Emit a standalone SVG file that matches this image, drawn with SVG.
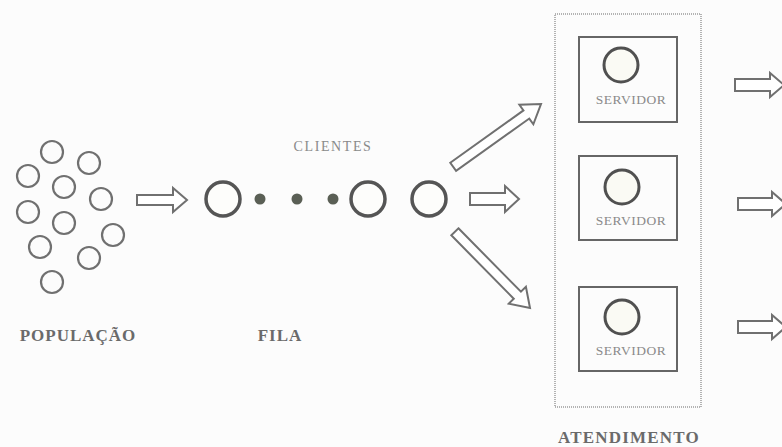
<svg xmlns="http://www.w3.org/2000/svg" width="782" height="447" viewBox="0 0 782 447">
<defs>
<style>
.pop{fill:none;stroke:#707070;stroke-width:2.2}
.q{fill:#fdfdfb;stroke:#555;stroke-width:3.5}
.dot{fill:#5a5f55}
.arr{fill:#fff;stroke:#707070;stroke-width:2;stroke-linejoin:miter}
.box{fill:none;stroke:#666;stroke-width:2}
.sc{fill:#fafaf4;stroke:#505050;stroke-width:3}
.lbl{font-family:"Liberation Serif","DejaVu Serif",serif;font-weight:bold;fill:#6a6a6a}
.small{font-family:"Liberation Serif","DejaVu Serif",serif;fill:#8a8a8a}
</style>
</defs>
<rect width="782" height="447" fill="#fcfcfc"/>

<g id="populacao">
<circle class="pop" cx="52" cy="152" r="11"/>
<circle class="pop" cx="89" cy="163" r="11"/>
<circle class="pop" cx="28" cy="176" r="11"/>
<circle class="pop" cx="64" cy="187" r="11"/>
<circle class="pop" cx="101" cy="199" r="11"/>
<circle class="pop" cx="28" cy="212" r="11"/>
<circle class="pop" cx="64" cy="223" r="11"/>
<circle class="pop" cx="113" cy="235" r="11"/>
<circle class="pop" cx="40" cy="247" r="11"/>
<circle class="pop" cx="89" cy="258" r="11"/>
<circle class="pop" cx="52" cy="282" r="11"/>
<text class="lbl" x="78" y="341" font-size="17" letter-spacing="1" text-anchor="middle">POPULAÇÃO</text>
</g>

<g id="fila">
<text class="small" x="333" y="151" font-size="14" letter-spacing="1.6" text-anchor="middle">CLIENTES</text>
<circle class="q" cx="223" cy="199" r="17"/>
<circle class="dot" cx="260" cy="199" r="5.5"/>
<circle class="dot" cx="297" cy="199" r="5.5"/>
<circle class="dot" cx="333" cy="199" r="5.5"/>
<circle class="q" cx="368" cy="199" r="17"/>
<circle class="q" cx="429" cy="199" r="17"/>
<text class="lbl" x="280" y="341" font-size="17" letter-spacing="1" text-anchor="middle">FILA</text>
</g>

<g id="atendimento">
<rect x="555" y="14" width="146" height="393" fill="none" stroke="#9a9a9a" stroke-width="1.5" stroke-dasharray="1,1"/>
<text class="lbl" x="629" y="443" font-size="17" letter-spacing="1.2" text-anchor="middle">ATENDIMENTO</text>
</g>

<g id="servidor1">
<rect class="box" x="579" y="37" width="98" height="85"/>
<circle class="sc" cx="621" cy="65" r="17"/>
<text class="small" x="631" y="104" font-size="13.5" letter-spacing="0.5" text-anchor="middle">SERVIDOR</text>
</g>
<g id="servidor2">
<rect class="box" x="579" y="156" width="98" height="84"/>
<circle class="sc" cx="622" cy="187" r="17"/>
<text class="small" x="631" y="225" font-size="13.5" letter-spacing="0.5" text-anchor="middle">SERVIDOR</text>
</g>
<g id="servidor3">
<rect class="box" x="579" y="287" width="98" height="84"/>
<circle class="sc" cx="622" cy="317" r="17"/>
<text class="small" x="631" y="355" font-size="13.5" letter-spacing="0.5" text-anchor="middle">SERVIDOR</text>
</g>

<g id="connectors">
<path class="arr" d="M137,195 H173 V188 L187,200 173,212 V205 H137 Z"/>
<path class="arr" transform="translate(541,104) rotate(-35.6)" d="M-108,-5 H-18 V-12 L0,0 -18,12 V5 H-108 Z"/>
<path class="arr" d="M470,193 H505 V186 L519,199 505,212 V205 H470 Z"/>
<path class="arr" transform="translate(530,308) rotate(45.4)" d="M-107,-5 H-18 V-12 L0,0 -18,12 V5 H-107 Z"/>
<path class="arr" d="M735,79 H770 V73 L784,85 770,97 V91 H735 Z"/>
<path class="arr" d="M738,198 H772 V192 L786,204 772,216 V210 H738 Z"/>
<path class="arr" d="M738,321 H772 V315 L786,327 772,339 V333 H738 Z"/>
</g>
</svg>
